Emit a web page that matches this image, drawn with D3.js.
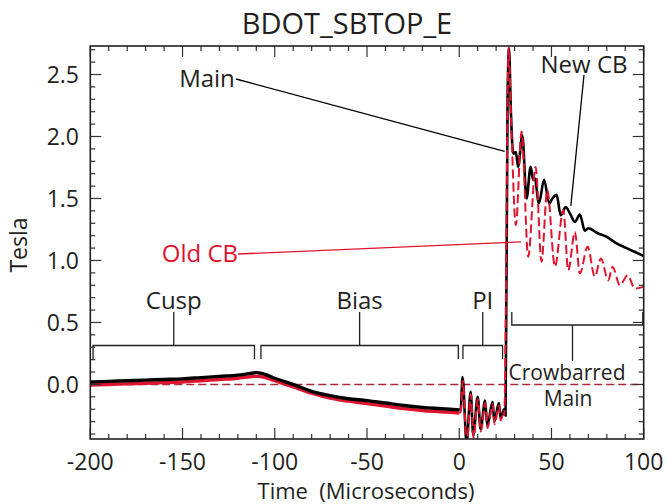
<!DOCTYPE html>
<html>
<head>
<meta charset="utf-8">
<script src="https://cdnjs.cloudflare.com/ajax/libs/d3/7.8.5/d3.min.js"></script>
<style>
    body { margin: 0; background: #fff; }
    text { font-family: "Open Sans", sans-serif; fill: #231f20; }
</style>
</head>
<body>
<div class="svg"></div>
<script>
// Main (black) trace, time in microseconds, field in tesla
var mainT = [-200, -190, -180, -170, -160, -150, -140, -130, -120, -115, -110, -105, -100, -90, -80, -70, -60, -50, -40, -30, -20, -10, 0,
    0.8, 1.8, 4.0, 6.2, 7.6, 10.0, 11.6, 14.0, 15.2, 18.1, 19.0, 21.5, 22.4, 24.4, 25.1,
    26.2, 27.0, 28.0, 29.3, 30.7, 31.9, 34.2, 36.5, 38.7, 40.1, 41.0, 43.2, 46.0, 48.8, 50.5, 52.8, 55.0, 57.7, 60.0,
    62.7, 65.4, 68.1, 70, 75, 80, 85, 90.7, 95, 100];
var mainB = [0.02, 0.025, 0.03, 0.035, 0.04, 0.045, 0.055, 0.065, 0.075, 0.085, 0.095, 0.08, 0.05, 0.0, -0.055, -0.09, -0.115, -0.13, -0.15, -0.17, -0.185, -0.195, -0.205,
    -0.2, 0.06, -0.47, -0.06, -0.41, -0.10, -0.36, -0.13, -0.33, -0.14, -0.30, -0.15, -0.27, -0.2, -0.25,
    2.3, 2.71, 2.2, 1.86, 1.875, 1.755, 2.01, 1.5, 1.755, 1.65, 1.66, 1.46, 1.65, 1.46, 1.5, 1.53, 1.365, 1.43, 1.38,
    1.31, 1.37, 1.24, 1.26, 1.22, 1.19, 1.14, 1.1, 1.07, 1.035];

// Old CB (red) trace
var oldT = [-200, -190, -180, -170, -160, -150, -140, -130, -120, -115, -110, -105, -100, -90, -80, -70, -60, -50, -40, -30, -20, -10, 0,
    0.8, 1.9, 4.1, 6.3, 7.7, 10.1, 11.7, 14.1, 15.3, 18.2, 19.1, 21.6, 22.5, 24.0, 24.4,
    26.8, 28.0, 30.7, 33.8, 37.4, 41.4, 44.6, 47.7, 51.9, 56.4, 59.1, 62.7, 65.4, 69.6, 73.5, 76.8, 80.8, 83.1, 87.1, 91.3, 95.2, 100];
var oldB = [-0.005, 0.0, 0.005, 0.01, 0.015, 0.02, 0.03, 0.04, 0.05, 0.06, 0.065, 0.055, 0.03, -0.02, -0.07, -0.11, -0.135, -0.155, -0.175, -0.195, -0.21, -0.22, -0.23,
    -0.22, 0.03, -0.48, -0.08, -0.43, -0.12, -0.38, -0.15, -0.35, -0.16, -0.32, -0.17, -0.29, -0.22, -0.25,
    2.72, 2.2, 1.285, 2.04, 1.03, 1.755, 0.99, 1.567, 0.95, 1.406, 0.92, 1.23, 0.895, 1.11, 0.87, 1.016, 0.84, 0.95, 0.80, 0.88, 0.774, 0.787];

var xTicks = [-200, -150, -100, -50, 0, 50, 100];
var yTicks = [0.0, 0.5, 1.0, 1.5, 2.0, 2.5];

// bracket spans [start, end] in microseconds
var brackets = [
    {label: "Cusp", from: -198.5, to: -111},
    {label: "Bias", from: -107.5, to: -0.5},
    {label: "PI", from: 2, to: 23.5}
];
var cbSpan = [28.5, 99.5];

var width = 665,
    height = 504;

var svg = d3.select(".svg").append("svg")
    .attr("width", width)
    .attr("height", height);

var x = d3.scaleLinear().domain([-200, 100]).range([90.3, 643.7]);
var y = d3.scaleLinear().domain([-0.44, 2.73]).range([439, 46]);

var red = "#e1142f";

svg.append("clipPath").attr("id", "clip")
    .append("rect")
    .attr("x", x(-200)).attr("y", y(2.73))
    .attr("width", x(100) - x(-200)).attr("height", y(-0.44) - y(2.73));

var plot = svg.append("g").attr("clip-path", "url(#clip)");

// zero line
plot.append("line")
    .attr("x1", x(-200)).attr("x2", x(100))
    .attr("y1", y(0)).attr("y2", y(0))
    .attr("stroke", "#a8283a")
    .attr("stroke-width", 1.6)
    .attr("stroke-dasharray", "8,4");

var line = d3.line()
    .x(function (d) { return x(d[0]); })
    .y(function (d) { return y(d[1]); })
    .curve(d3.curveMonotoneX);

var mainData = d3.zip(mainT, mainB);
var oldData = d3.zip(oldT, oldB);

function before(d) { return d[0] <= 0; }
function after(d) { return d[0] >= 0; }

// noisy band before the pulse is drawn a bit thicker
plot.append("path")
    .attr("d", line(oldData.filter(before)))
    .attr("fill", "none")
    .attr("stroke", red)
    .attr("stroke-width", 3.4);

plot.append("path")
    .attr("d", line(mainData.filter(before)))
    .attr("fill", "none")
    .attr("stroke", "#000")
    .attr("stroke-width", 3.4);

plot.append("path")
    .attr("d", line(mainData.filter(after)))
    .attr("fill", "none")
    .attr("stroke", "#000")
    .attr("stroke-width", 2.6);

plot.append("path")
    .attr("d", line(oldData.filter(after)))
    .attr("fill", "none")
    .attr("stroke", red)
    .attr("stroke-width", 2)
    .attr("stroke-dasharray", "9,4");

// axes: box with inward ticks on all four sides
var axisG = svg.append("g");

var xMinor = d3.range(-200, 101, 10);
var yMinor = d3.range(-4, 28).map(function (i) { return i / 10; });

function isMajor(d, isX) {
    return isX ? d % 50 == 0 : Math.abs(d * 2 - Math.round(d * 2)) < 1e-6;
}

function addTicks(vals, isX, atMin) {
    axisG.selectAll(null)
        .data(vals)
        .enter().append("line")
        .attr("x1", function (d) { return isX ? x(d) : (atMin ? x(-200) : x(100)); })
        .attr("x2", function (d) {
            var len = isMajor(d, isX) ? 11 : 5;
            return isX ? x(d) : (atMin ? x(-200) + len : x(100) - len);
        })
        .attr("y1", function (d) { return isX ? (atMin ? y(-0.44) : y(2.73)) : y(d); })
        .attr("y2", function (d) {
            var len = isMajor(d, isX) ? 11 : 5;
            return isX ? (atMin ? y(-0.44) - len : y(2.73) + len) : y(d);
        })
        .attr("stroke", "#333")
        .attr("stroke-width", 1.2);
}

addTicks(xMinor, true, true);
addTicks(xMinor, true, false);
addTicks(yMinor, false, true);
addTicks(yMinor, false, false);

axisG.append("rect")
    .attr("x", x(-200)).attr("y", y(2.73))
    .attr("width", x(100) - x(-200)).attr("height", y(-0.44) - y(2.73))
    .attr("fill", "none")
    .attr("stroke", "#231f20")
    .attr("stroke-width", 1.6);

axisG.selectAll(".xl")
    .data(xTicks)
    .enter().append("text")
    .attr("x", function (d) { return x(d); })
    .attr("y", 470)
    .attr("text-anchor", "middle")
    .style("font-size", "23px")
    .text(function (d) { return d; });

axisG.selectAll(".yl")
    .data(yTicks)
    .enter().append("text")
    .attr("x", 79)
    .attr("y", function (d) { return y(d); })
    .attr("dy", "0.35em")
    .attr("text-anchor", "end")
    .style("font-size", "23px")
    .text(function (d) { return d.toFixed(1); });

svg.append("text")
    .attr("x", 347).attr("y", 34)
    .attr("text-anchor", "middle")
    .style("font-size", "29px")
    .text("BDOT_SBTOP_E");

svg.append("text")
    .attr("x", 366).attr("y", 499)
    .attr("text-anchor", "middle")
    .style("font-size", "22px")
    .style("white-space", "pre")
    .attr("xml:space", "preserve")
    .text("Time  (Microseconds)");

svg.append("text")
    .attr("transform", "translate(27,245) rotate(-90)")
    .attr("text-anchor", "middle")
    .style("font-size", "23px")
    .text("Tesla");

// annotations
var ann = svg.append("g");

function bracket(b) {
    var x0 = x(b.from), x1 = x(b.to), xm = (x0 + x1) / 2;
    ann.append("path")
        .attr("d", "M" + x0 + "," + 359 + "V" + 345.5 + "H" + x1 + "V" + 359 + "M" + xm + "," + 345.5 + "V" + 312)
        .attr("fill", "none")
        .attr("stroke", "#231f20")
        .attr("stroke-width", 1.3);
    ann.append("text")
        .attr("x", xm).attr("y", 309)
        .attr("text-anchor", "middle")
        .style("font-size", "24px")
        .text(b.label);
}

brackets.forEach(bracket);

var c0 = x(cbSpan[0]), c1 = x(cbSpan[1]), cm = 572.5;
ann.append("path")
    .attr("d", "M" + c0 + ",312V325H" + c1 + "V312M" + cm + ",325V361")
    .attr("fill", "none")
    .attr("stroke", "#231f20")
    .attr("stroke-width", 1.3);
ann.append("text").attr("x", 567).attr("y", 380)
    .attr("text-anchor", "middle").style("font-size", "21px").text("Crowbarred");
ann.append("text").attr("x", 568).attr("y", 406)
    .attr("text-anchor", "middle").style("font-size", "21px").text("Main");

// leader lines
ann.append("text").attr("x", 207).attr("y", 87)
    .attr("text-anchor", "middle").style("font-size", "24px").text("Main");
ann.append("line")
    .attr("x1", 236).attr("y1", 79).attr("x2", x(24.6)).attr("y2", y(1.88))
    .attr("stroke", "#000").attr("stroke-width", 1.3);

ann.append("text").attr("x", 584).attr("y", 73)
    .attr("text-anchor", "middle").style("font-size", "24px").text("New CB");
ann.append("line")
    .attr("x1", 584).attr("y1", 75).attr("x2", x(60.5)).attr("y2", y(1.44))
    .attr("stroke", "#000").attr("stroke-width", 1.3);

ann.append("text").attr("x", 200).attr("y", 262)
    .attr("text-anchor", "middle").style("font-size", "24px")
    .style("fill", red).text("Old CB");
ann.append("line")
    .attr("x1", 238).attr("y1", 254).attr("x2", x(33.5)).attr("y2", y(1.15))
    .attr("stroke", red).attr("stroke-width", 1.3);
</script>
</body>
</html>
